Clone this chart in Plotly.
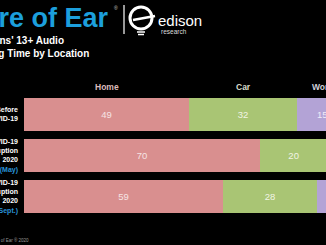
import plotly.graph_objects as go

# ---- data ----
categories = ["Before COVID-19", "COVID-19 Disruption 2020 (May)", "COVID-19 Disruption 2020 (Sept.)"]
tick_lines = [["Before", "COVID-19"], ["COVID-19", "Disruption", "2020"], ["COVID-19", "Disruption", "2020"]]
tick_notes = ["", "(May)", "(Sept.)"]
series = ["Home", "Car", "Work", "Other"]
home = [49, 70, 59]
car = [32, 20, 28]
work = [15, 6, 9]
other = [4, 4, 4]
values = [home, car, work, other]

colors = ["#d98f8f", "#a9c574", "#b3a3d6", "#8fb6d6"]
text_colors = ["#f6e4e4", "#f1f4e4", "#f0ecf8", "#eef4fa"]
header_colors = ["#dcbcbc", "#d8dccb", "#cfcfd8", "#cccccc"]

W, H = 326, 245
ML, MR, MT, MB = 24, 0, 94, 28
PW, PH = W - ML - MR, H - MT - MB


def px(x):
    return (x - ML) / PW


def py(y):
    return (H - MB - y) / PH


FONT = "Liberation Sans, Arial, sans-serif"

fig = go.Figure()
for name, vals, c, tc in zip(series, values, colors, text_colors):
    fig.add_trace(go.Bar(
        y=categories, x=vals, name=name, orientation="h",
        marker=dict(color=c, line=dict(width=0)),
        text=vals, texttemplate="%{x}", textposition="inside",
        insidetextanchor="middle", textangle=0,
        textfont=dict(color=tc, size=9.5, family=FONT),
        cliponaxis=True,
    ))

ticktext = []
for lines, note in zip(tick_lines, tick_notes):
    t = "<br>".join("<b>%s</b>" % l for l in lines)
    if note:
        t += "<br><span style='color:#2a93d8'><b>%s</b></span>" % note
    ticktext.append(t)

fig.update_layout(
    width=W, height=H,
    margin=dict(l=ML, r=MR, t=MT, b=MB, pad=0, autoexpand=False),
    paper_bgcolor="#000000", plot_bgcolor="#000000",
    barmode="stack", bargap=0.195, showlegend=False,
    font=dict(family=FONT, color="#ffffff"),
    xaxis=dict(range=[0, 89.6], showticklabels=False, showgrid=False,
               zeroline=False, showline=False, fixedrange=True, automargin=False),
    yaxis=dict(autorange="reversed", tickmode="array", tickvals=categories,
               ticktext=ticktext, showgrid=False, zeroline=False, showline=False,
               ticks="", ticklabelstandoff=5, automargin=False,
               tickfont=dict(size=7, color="#ffffff", family=FONT)),
)

ann = []
# column headers above first bar
cum = 0
for name, vals, hc in zip(series, values, header_colors):
    ann.append(dict(x=cum + vals[0] / 2, xref="x", y=py(87), yref="paper",
                    text="<b>%s</b>" % name, showarrow=False,
                    font=dict(size=8.5, color=hc, family=FONT),
                    xanchor="center", yanchor="middle"))
    cum += vals[0]

# title
ann.append(dict(x=px(111), y=py(18), xref="paper", yref="paper", xanchor="right",
                yanchor="middle", showarrow=False, text="<b>Share of Ear</b>",
                font=dict(size=27, color="#1c9fdc", family=FONT)))
ann.append(dict(x=px(112), y=py(8), xref="paper", yref="paper", xanchor="left",
                yanchor="middle", showarrow=False, text="®",
                font=dict(size=5, color="#cccccc", family=FONT)))
# subtitle
ann.append(dict(x=px(-42), y=py(47), xref="paper", yref="paper", xanchor="left",
                yanchor="middle", align="left", showarrow=False,
                text="<b>Americans' 13+ Audio<br>Listening Time by Location</b>",
                font=dict(size=10, color="#ffffff", family=FONT)))
# logo text
ann.append(dict(x=px(156), y=py(20), xref="paper", yref="paper", xanchor="left",
                yanchor="middle", showarrow=False, text="edison",
                font=dict(size=15, color="#ffffff", family=FONT)))
ann.append(dict(x=px(159), y=py(31), xref="paper", yref="paper", xanchor="left",
                yanchor="middle", showarrow=False, text="research",
                font=dict(size=6.5, color="#dddddd", family=FONT)))
# footer
ann.append(dict(x=px(31), y=py(240), xref="paper", yref="paper", xanchor="right",
                yanchor="middle", showarrow=False,
                text="Source: Edison Research, Share of Ear ® 2020",
                font=dict(size=4.5, color="#999999", family=FONT)))
fig.update_layout(annotations=ann)

shapes = [
    # divider
    dict(type="line", xref="paper", yref="paper", x0=px(124), x1=px(124),
         y0=py(5), y1=py(34), line=dict(color="#ffffff", width=1.2)),
    # logo circle
    dict(type="circle", xref="paper", yref="paper", x0=px(130), x1=px(152),
         y0=py(7), y1=py(29), line=dict(color="#ffffff", width=3)),
    dict(type="line", xref="paper", yref="paper", x0=px(133), x1=px(155),
         y0=py(20), y1=py(16), line=dict(color="#ffffff", width=2.5)),
    dict(type="line", xref="paper", yref="paper", x0=px(137), x1=px(145),
         y0=py(32), y1=py(32), line=dict(color="#ffffff", width=1.5)),
    dict(type="line", xref="paper", yref="paper", x0=px(138), x1=px(144),
         y0=py(34.5), y1=py(34.5), line=dict(color="#ffffff", width=1.5)),
]
fig.update_layout(shapes=shapes)

fig.write_html("out.html")
